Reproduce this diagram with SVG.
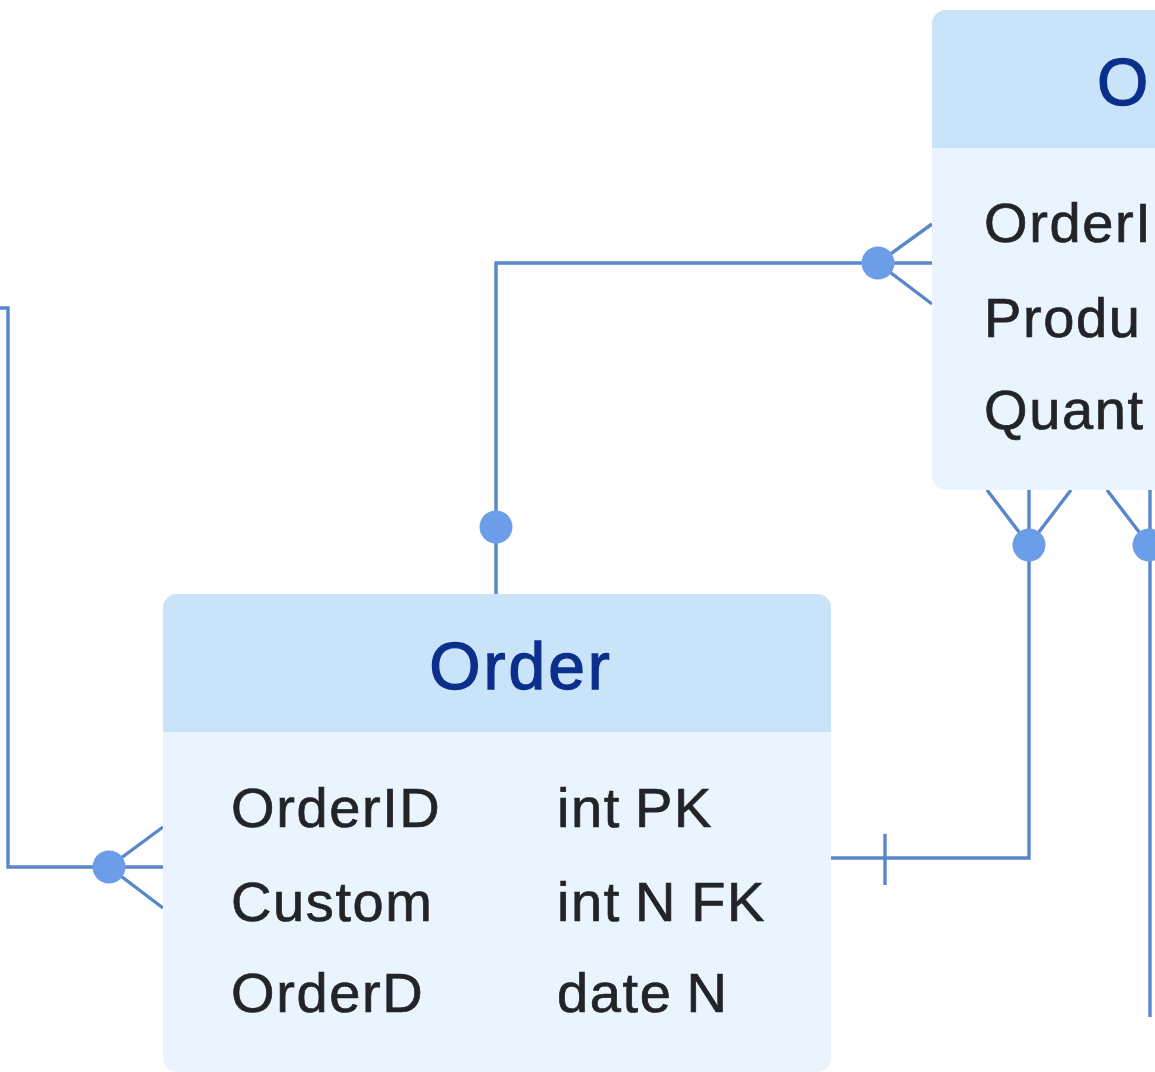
<svg xmlns="http://www.w3.org/2000/svg" width="1155" height="1072" viewBox="0 0 1155 1072">
  <style>
    .hdr { fill: #c9e3f8; }
    .body { fill: #eaf4fe; }
    .title { font-family: "Liberation Sans", Arial, sans-serif; font-size: 66px; fill: #0c2f8c; stroke: #0c2f8c; stroke-width: 1.3px; letter-spacing: 3px; }
    .fld { font-family: "Liberation Sans", Arial, sans-serif; font-size: 56px; fill: #222428; stroke: #222428; stroke-width: 0.7px; letter-spacing: 1.6px; word-spacing: -3px; }
    .ln { fill: none; stroke: #5a87cc; stroke-width: 3.4; }
    .dot { fill: #6b9de8; }
  </style>
  <rect x="0" y="0" width="1155" height="1072" fill="#ffffff"/>

  <g id="connectors">
    <path class="ln" d="M0 308 H8 V867 H163"/>
    <path class="ln" d="M163 827 L109 867 L163 908"/>
    <circle class="dot" cx="109" cy="867" r="16.5"/>

    <path class="ln" d="M496 594 V263 H932"/>
    <circle class="dot" cx="496" cy="527" r="16.5"/>
    <path class="ln" d="M932 224 L878 263 L932 304"/>
    <circle class="dot" cx="878" cy="263" r="16.5"/>

    <path class="ln" d="M831 858 H1029 V490"/>
    <path class="ln" d="M885 834 V885"/>
    <path class="ln" d="M987 490 L1029 545 L1071 490"/>
    <circle class="dot" cx="1029" cy="545" r="16.5"/>

    <path class="ln" d="M1150 490 V1017"/>
    <path class="ln" d="M1107 490 L1149 545 L1191 490"/>
    <circle class="dot" cx="1149" cy="545" r="16.5"/>
  </g>

  <g id="node-order">
    <rect class="body" x="163" y="594" width="668" height="478" rx="14"/>
    <path class="hdr" d="M177 594 H817 A14 14 0 0 1 831 608 V732 H163 V608 A14 14 0 0 1 177 594 Z"/>
    <text class="title" x="521" y="689" text-anchor="middle">Order</text>
    <text class="fld" x="231" y="827">OrderID</text>
    <text class="fld" x="557" y="827">int PK</text>
    <text class="fld" x="231" y="921">Custom</text>
    <text class="fld" x="557" y="921">int N FK</text>
    <text class="fld" x="231" y="1012">OrderD</text>
    <text class="fld" x="557" y="1012">date N</text>
  </g>

  <g id="node-right">
    <rect class="body" x="932" y="10" width="260" height="480" rx="14"/>
    <path class="hdr" d="M946 10 H1192 V148 H932 V24 A14 14 0 0 1 946 10 Z"/>
    <text class="title" x="1097" y="105">O</text>
    <text class="fld" x="984" y="242">OrderI</text>
    <text class="fld" x="984" y="337">Produ</text>
    <text class="fld" x="984" y="429">Quant</text>
  </g>
</svg>
